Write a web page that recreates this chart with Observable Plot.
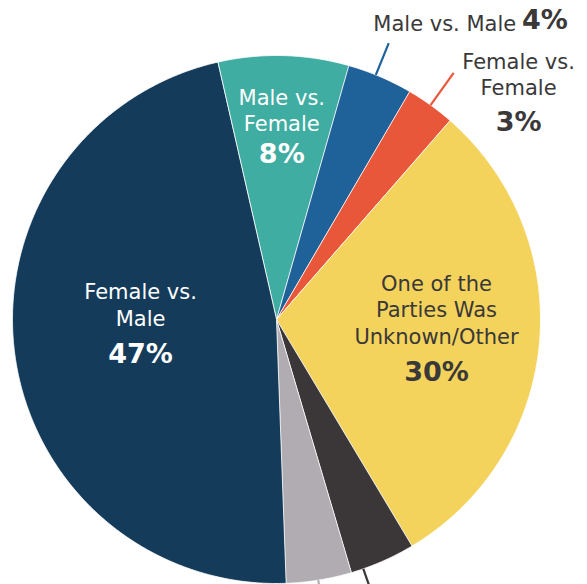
<!DOCTYPE html>
<html>
<head>
<meta charset="utf-8">
<script src="https://cdn.jsdelivr.net/npm/d3@7"></script>
<script src="https://cdn.jsdelivr.net/npm/@observablehq/plot@0.6"></script>
<style>
  html, body { margin: 0; padding: 0; background: #fff; }
  svg { display: block; font-family: "DejaVu Sans", sans-serif; }
</style>
</head>
<body>
<div id="chart"></div>
<script>
// ---- data ----
const categories = ["Male vs. Female", "Male vs. Male", "Female vs. Female",
  "One of the Parties Was Unknown/Other", "Other (dark)", "Other (light)", "Female vs. Male"];
const values = [8, 4, 3, 30, 4, 4, 47];
const percentLabels = ["8%", "4%", "3%", "30%", "", "", "47%"];
const nameLabels = ["Male vs.\nFemale", "Male vs. Male", "Female vs.\nFemale",
  "One of the\nParties Was\nUnknown/Other", "", "", "Female vs.\nMale"];
const colors = ["#40ada3", "#1f6199", "#e9573b", "#f3d35c", "#3b3638", "#b1acb1", "#143c5a"];

// ---- layout ----
const startAngle = -12.9; // degrees, clockwise from top
const total = d3.sum(values);
const slices = [];
let acc = startAngle;
values.forEach((v, i) => {
  const a0 = acc, a1 = acc + v / total * 360;
  slices.push({name: categories[i], a0, a1, mid: (a0 + a1) / 2});
  acc = a1;
});
const rad = d => d * Math.PI / 180;
const pts = [];
for (const s of slices) {
  pts.push({name: s.name, x: 0, y: 0});
  const n = Math.max(2, Math.ceil((s.a1 - s.a0) / 0.5));
  for (let k = 0; k <= n; k++) {
    const a = rad(s.a0 + (s.a1 - s.a0) * k / n);
    pts.push({name: s.name, x: Math.sin(a), y: Math.cos(a)});
  }
}

// leader lines: slice index, angle offset, outer radius
const leaders = [
  {i: 1, da: -1.0, r1: 1.13, color: colors[1]},
  {i: 2, da: 0.0, r1: 1.15, color: colors[2]},
  {i: 4, da: 4.5, r1: 1.2, color: colors[4]},
  {i: 5, da: 0.2, r1: 1.2, color: colors[5]}
].map(d => {
  const a = rad(slices[d.i].mid + d.da);
  return {x1: Math.sin(a), y1: Math.cos(a), x2: Math.sin(a) * d.r1, y2: Math.cos(a) * d.r1, color: d.color};
});

// label anchors (domain units)
const dark = "#3a3838";
const nameText = [
  {t: nameLabels[0], x: 0.02, y: 0.795, fill: "white", anchor: "middle"},
  {t: nameLabels[6], x: -0.515, y: 0.06, fill: "white", anchor: "middle"},
  {t: nameLabels[3], x: 0.606, y: 0.04, fill: dark, anchor: "middle"},
  {t: nameLabels[1], x: 0.908, y: 1.127, fill: dark, anchor: "end"},
  {t: nameLabels[2], x: 0.917, y: 0.932, fill: dark, anchor: "middle"}
];
const pctText = [
  {t: percentLabels[0], x: 0.02, y: 0.625, fill: "white", anchor: "middle"},
  {t: percentLabels[6], x: -0.515, y: -0.133, fill: "white", anchor: "middle"},
  {t: percentLabels[3], x: 0.606, y: -0.2, fill: dark, anchor: "middle"},
  {t: percentLabels[1], x: 0.93, y: 1.133, fill: dark, anchor: "start"},
  {t: percentLabels[2], x: 0.917, y: 0.745, fill: dark, anchor: "middle"}
];

const textMarks = [];
for (const anchor of ["middle", "start", "end"]) {
  textMarks.push(Plot.text(nameText.filter(d => d.anchor === anchor),
    {x: "x", y: "y", text: "t", fill: d => d.fill, textAnchor: anchor, fontSize: 21, lineHeight: 1.27, lineAnchor: "middle"}));
  textMarks.push(Plot.text(pctText.filter(d => d.anchor === anchor),
    {x: "x", y: "y", text: "t", fill: d => d.fill, textAnchor: anchor, fontSize: 27, fontWeight: "bold", lineAnchor: "middle"}));
}

const chart = Plot.plot({
  width: 587,
  height: 584,
  margin: 0,
  x: {domain: [-1, 1], range: [12, 540], axis: null},
  y: {domain: [-1, 1], range: [583, 55], axis: null},
  color: {domain: categories, range: colors},
  marks: [
    Plot.line(pts, {x: "x", y: "y", z: "name", fill: "name", stroke: "white", strokeWidth: 0.8, curve: "linear-closed"}),
    Plot.link(leaders, {x1: "x1", y1: "y1", x2: "x2", y2: "y2", stroke: d => d.color, strokeWidth: 2.2}),
    ...textMarks
  ]
});
document.getElementById("chart").append(chart);
</script>
</body>
</html>
